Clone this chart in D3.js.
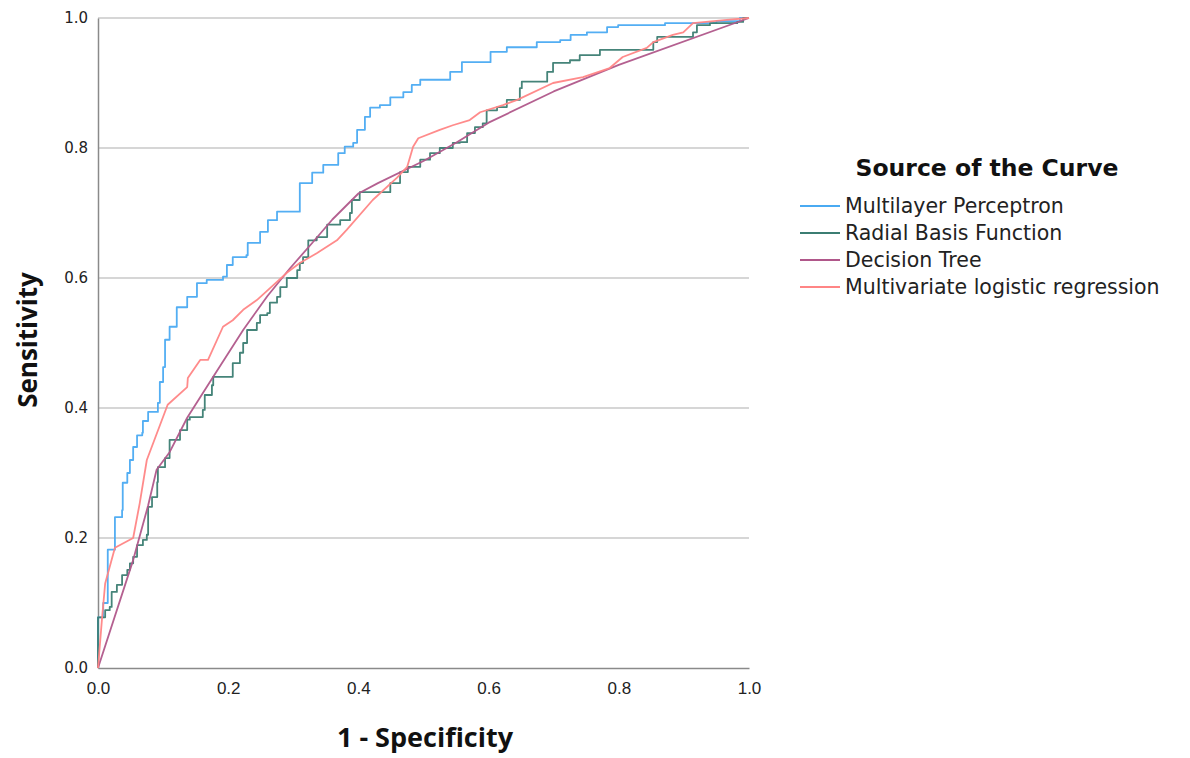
<!DOCTYPE html>
<html>
<head>
<meta charset="utf-8">
<script src="https://cdn.jsdelivr.net/npm/d3@7"></script>
<style>
  html, body { margin: 0; padding: 0; background: #ffffff; }
  svg { display: block; }
</style>
</head>
<body>
<svg id="chart" width="1190" height="758"></svg>
<script>
// ---- data (1 - specificity, sensitivity) ----
const seriesNames = ["Multilayer Perceptron", "Radial Basis Function", "Decision Tree", "Multivariate logistic regression"];
const seriesColors = ["#4aaaf2", "#3b7d72", "#b0578a", "#ff8585"];
const xTicks = [0.0, 0.2, 0.4, 0.6, 0.8, 1.0];
const yTicks = [0.0, 0.2, 0.4, 0.6, 0.8, 1.0];

const mlp = [
  [0,0],[0,0.078],[0.003,0.078],[0.008,0.1],[0.012,0.1],[0.015,0.182],[0.026,0.185],[0.026,0.232],
  [0.037,0.243],[0.038,0.285],[0.045,0.3],[0.049,0.32],[0.054,0.34],[0.06,0.358],[0.068,0.362],
  [0.069,0.38],[0.077,0.394],[0.092,0.408],[0.095,0.44],[0.1,0.463],[0.103,0.505],[0.11,0.525],
  [0.121,0.555],[0.137,0.571],[0.152,0.592],[0.167,0.597],[0.192,0.602],[0.198,0.62],[0.207,0.632],
  [0.228,0.635],[0.23,0.654],[0.249,0.671],[0.261,0.689],[0.275,0.702],[0.306,0.702],[0.31,0.746],
  [0.329,0.762],[0.346,0.774],[0.361,0.774],[0.369,0.792],[0.379,0.802],[0.392,0.808],[0.398,0.828],
  [0.41,0.848],[0.418,0.862],[0.433,0.866],[0.449,0.878],[0.469,0.886],[0.482,0.897],[0.495,0.905],
  [0.518,0.905],[0.541,0.917],[0.559,0.932],[0.59,0.932],[0.603,0.948],[0.628,0.955],[0.659,0.955],
  [0.674,0.963],[0.71,0.966],[0.726,0.974],[0.751,0.978],[0.782,0.986],[0.799,0.989],[0.868,0.989],
  [0.871,0.992],[0.914,0.992],[0.95,0.995],[0.986,1],[1,1]
];
const rbf = [
  [0,0],[0,0.078],[0.011,0.089],[0.018,0.094],[0.021,0.117],[0.029,0.128],[0.037,0.143],[0.045,0.151],
  [0.049,0.161],[0.054,0.171],[0.06,0.189],[0.069,0.197],[0.075,0.205],[0.077,0.248],[0.083,0.263],
  [0.091,0.286],[0.092,0.309],[0.103,0.323],[0.11,0.335],[0.11,0.351],[0.126,0.351],[0.126,0.366],
  [0.137,0.382],[0.141,0.386],[0.161,0.397],[0.164,0.42],[0.175,0.435],[0.177,0.448],[0.198,0.448],
  [0.207,0.469],[0.218,0.485],[0.223,0.5],[0.229,0.52],[0.244,0.531],[0.249,0.543],[0.26,0.546],
  [0.264,0.562],[0.275,0.571],[0.28,0.586],[0.29,0.6],[0.306,0.612],[0.31,0.623],[0.315,0.632],
  [0.323,0.658],[0.336,0.663],[0.352,0.682],[0.372,0.689],[0.387,0.7],[0.39,0.72],[0.402,0.732],
  [0.429,0.732],[0.449,0.746],[0.464,0.763],[0.476,0.771],[0.495,0.782],[0.51,0.792],[0.525,0.8],
  [0.545,0.808],[0.556,0.809],[0.567,0.823],[0.579,0.832],[0.591,0.838],[0.597,0.858],[0.613,0.863],
  [0.628,0.874],[0.648,0.892],[0.651,0.902],[0.687,0.902],[0.69,0.917],[0.699,0.931],[0.725,0.935],
  [0.74,0.943],[0.771,0.951],[0.828,0.951],[0.853,0.963],[0.859,0.971],[0.889,0.971],[0.914,0.978],
  [0.92,0.989],[0.94,0.992],[0.982,0.994],[0.991,1],[1,1]
];
const dt = [
  [0,0],[0.054,0.166],[0.077,0.25],[0.09,0.305],[0.11,0.332],[0.137,0.385],[0.177,0.448],[0.223,0.52],
  [0.26,0.572],[0.295,0.615],[0.33,0.655],[0.36,0.69],[0.4,0.73],[0.43,0.746],[0.5,0.78],[0.55,0.808],
  [0.6,0.839],[0.7,0.887],[0.8,0.928],[1,1]
];
const lr = [
  [0,0],[0.006,0.074],[0.011,0.13],[0.026,0.185],[0.054,0.2],[0.064,0.253],[0.075,0.32],[0.107,0.405],
  [0.137,0.432],[0.138,0.446],[0.157,0.474],[0.169,0.474],[0.192,0.525],[0.207,0.535],[0.223,0.551],
  [0.244,0.566],[0.29,0.608],[0.31,0.623],[0.336,0.638],[0.367,0.658],[0.382,0.674],[0.422,0.72],
  [0.459,0.754],[0.475,0.771],[0.484,0.802],[0.492,0.815],[0.525,0.828],[0.545,0.835],[0.571,0.843],
  [0.587,0.855],[0.622,0.866],[0.644,0.874],[0.699,0.9],[0.745,0.909],[0.786,0.923],[0.806,0.94],
  [0.843,0.954],[0.853,0.963],[0.883,0.974],[0.899,0.978],[0.914,0.992],[0.966,0.997],[1,1]
];
const seriesData = [mlp, rbf, dt, lr];
const seriesStep = [true, true, false, false];

// ---- layout ----
const svg = d3.select("#chart");
const plotL = 98, plotR = 749, plotT = 18, plotB = 668;
const x = d3.scaleLinear().domain([0, 1]).range([plotL, plotR]);
const y = d3.scaleLinear().domain([0, 1]).range([plotB, plotT]);

// grid lines
svg.append("g").selectAll("line").data(yTicks.filter(d => d > 0)).join("line")
  .attr("x1", plotL).attr("x2", plotR)
  .attr("y1", d => y(d)).attr("y2", d => y(d))
  .attr("stroke", "#c9c9c9").attr("stroke-width", 1.5);

// axes
const xAxis = svg.append("g").attr("transform", `translate(0,${plotB})`)
  .call(d3.axisBottom(x).tickValues(xTicks).tickFormat(d3.format(".1f")).tickSize(0).tickPadding(14));
const yAxis = svg.append("g").attr("transform", `translate(${plotL},0)`)
  .call(d3.axisLeft(y).tickValues(yTicks).tickFormat(d3.format(".1f")).tickSize(0).tickPadding(10));
[xAxis, yAxis].forEach(a => {
  a.select(".domain").attr("stroke", "#8a8a8a").attr("stroke-width", 1.5);
  a.selectAll("text").attr("fill", "#222");
});
yAxis.selectAll("text").attr("font-family", "DejaVu Sans, sans-serif").attr("font-size", 15);
xAxis.selectAll("text").attr("font-family", "Liberation Sans Narrow, Liberation Sans, sans-serif").attr("font-size", 17);

// curves
seriesData.forEach((data, i) => {
  const line = d3.line().x(d => x(d[0])).y(d => y(d[1]))
    .curve(seriesStep[i] ? d3.curveStepAfter : d3.curveLinear);
  svg.append("path").datum(data)
    .attr("d", line)
    .attr("fill", "none")
    .attr("stroke", seriesColors[i])
    .attr("stroke-width", 1.8)
    .attr("stroke-linejoin", "round")
    .attr("opacity", 0.95);
});

// axis titles
svg.append("text").attr("x", 425).attr("y", 747).attr("text-anchor", "middle")
  .attr("font-family", "Open Sans, sans-serif").attr("font-weight", "bold").attr("font-size", 27)
  .attr("fill", "#111").text("1 - Specificity");
svg.append("text").attr("transform", "translate(37,340) rotate(-90)").attr("text-anchor", "middle")
  .attr("font-family", "Open Sans, sans-serif").attr("font-weight", "bold").attr("font-size", 26)
  .attr("fill", "#111").text("Sensitivity");

// legend
svg.append("text").attr("x", 987).attr("y", 176).attr("text-anchor", "middle")
  .attr("font-family", "DejaVu Sans, sans-serif").attr("font-weight", "bold").attr("font-size", 23.5)
  .attr("fill", "#111").text("Source of the Curve");
const lg = svg.append("g").selectAll("g").data(seriesNames).join("g")
  .attr("transform", (d, i) => `translate(800,${206 + i * 27})`);
lg.append("line").attr("x1", 0).attr("x2", 40).attr("y1", 0).attr("y2", 0)
  .attr("stroke", (d, i) => seriesColors[i]).attr("stroke-width", 2);
lg.append("text").attr("x", 45).attr("y", 7)
  .attr("font-family", "DejaVu Sans, sans-serif").attr("font-size", 20.5).attr("fill", "#222")
  .text(d => d);
</script>
</body>
</html>
